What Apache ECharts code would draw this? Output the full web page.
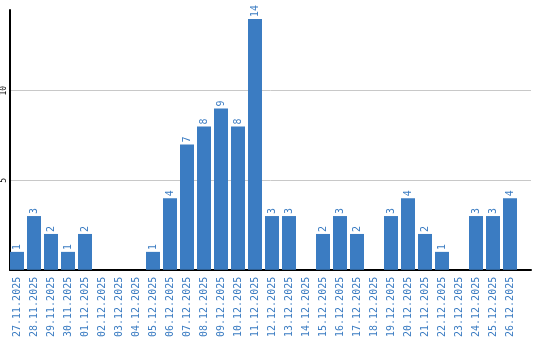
<!DOCTYPE html>
<html><head><meta charset="utf-8">
<script src="https://cdn.jsdelivr.net/npm/echarts@6/dist/echarts.min.js"></script>
<style>html,body{margin:0;padding:0;background:#fff}#c{width:540px;height:340px}</style>
</head><body><div id="c"></div>
<script>
const categories = ["27.11.2025","28.11.2025","29.11.2025","30.11.2025","01.12.2025","02.12.2025","03.12.2025","04.12.2025","05.12.2025","06.12.2025","07.12.2025","08.12.2025","09.12.2025","10.12.2025","11.12.2025","12.12.2025","13.12.2025","14.12.2025","15.12.2025","16.12.2025","17.12.2025","18.12.2025","19.12.2025","20.12.2025","21.12.2025","22.12.2025","23.12.2025","24.12.2025","25.12.2025","26.12.2025"];
const values = [1,3,2,1,2,0,0,0,1,4,7,8,9,8,14,3,3,0,2,3,2,0,3,4,2,1,0,3,3,4];
const yTicks = [5,10];

const blue = '#3b7cc2';
const font = 'DejaVu Sans Mono';
const chart = echarts.init(document.getElementById('c'), null, {renderer:'canvas'});
chart.setOption({
  animation:false,
  grid:[
    {left:10, top:10, right:9, bottom:70},
    {left:8.5, top:10, width:510, bottom:70}
  ],
  xAxis:[
    {gridIndex:0, type:'value', min:0, max:1, show:true,
     axisLine:{show:true, onZero:false, lineStyle:{color:'#000', width:2}},
     axisTick:{show:false}, axisLabel:{show:false}, splitLine:{show:false}},
    {gridIndex:1, type:'category', data:categories,
     axisLine:{show:false},
     axisTick:{show:false},
     axisLabel:{rotate:90, interval:0, margin:7, color:blue, fontFamily:font, fontSize:10}}
  ],
  yAxis:[
    {gridIndex:0, type:'value', min:0, max:14.5, interval:5,
     axisLine:{show:true, lineStyle:{color:'#000', width:2}},
     axisTick:{show:false},
     splitLine:{show:true, showMinLine:false, showMaxLine:false, lineStyle:{color:'#c8c8c8', width:1}},
     axisLabel:{rotate:90, margin:2, color:'#000', fontFamily:font, fontSize:8,
       formatter:v => yTicks.includes(v) ? String(v) : ''}},
    {gridIndex:1, type:'value', min:0, max:14.5, show:false}
  ],
  series:[{
    type:'bar', xAxisIndex:1, yAxisIndex:1, data:values, barWidth:14,
    itemStyle:{color:blue},
    label:{show:true, position:'top', rotate:90, align:'left', verticalAlign:'middle', distance:2,
      color:blue, fontFamily:font, fontSize:10,
      formatter:p => p.value ? String(p.value) : ''}
  }]
});
</script></body></html>
